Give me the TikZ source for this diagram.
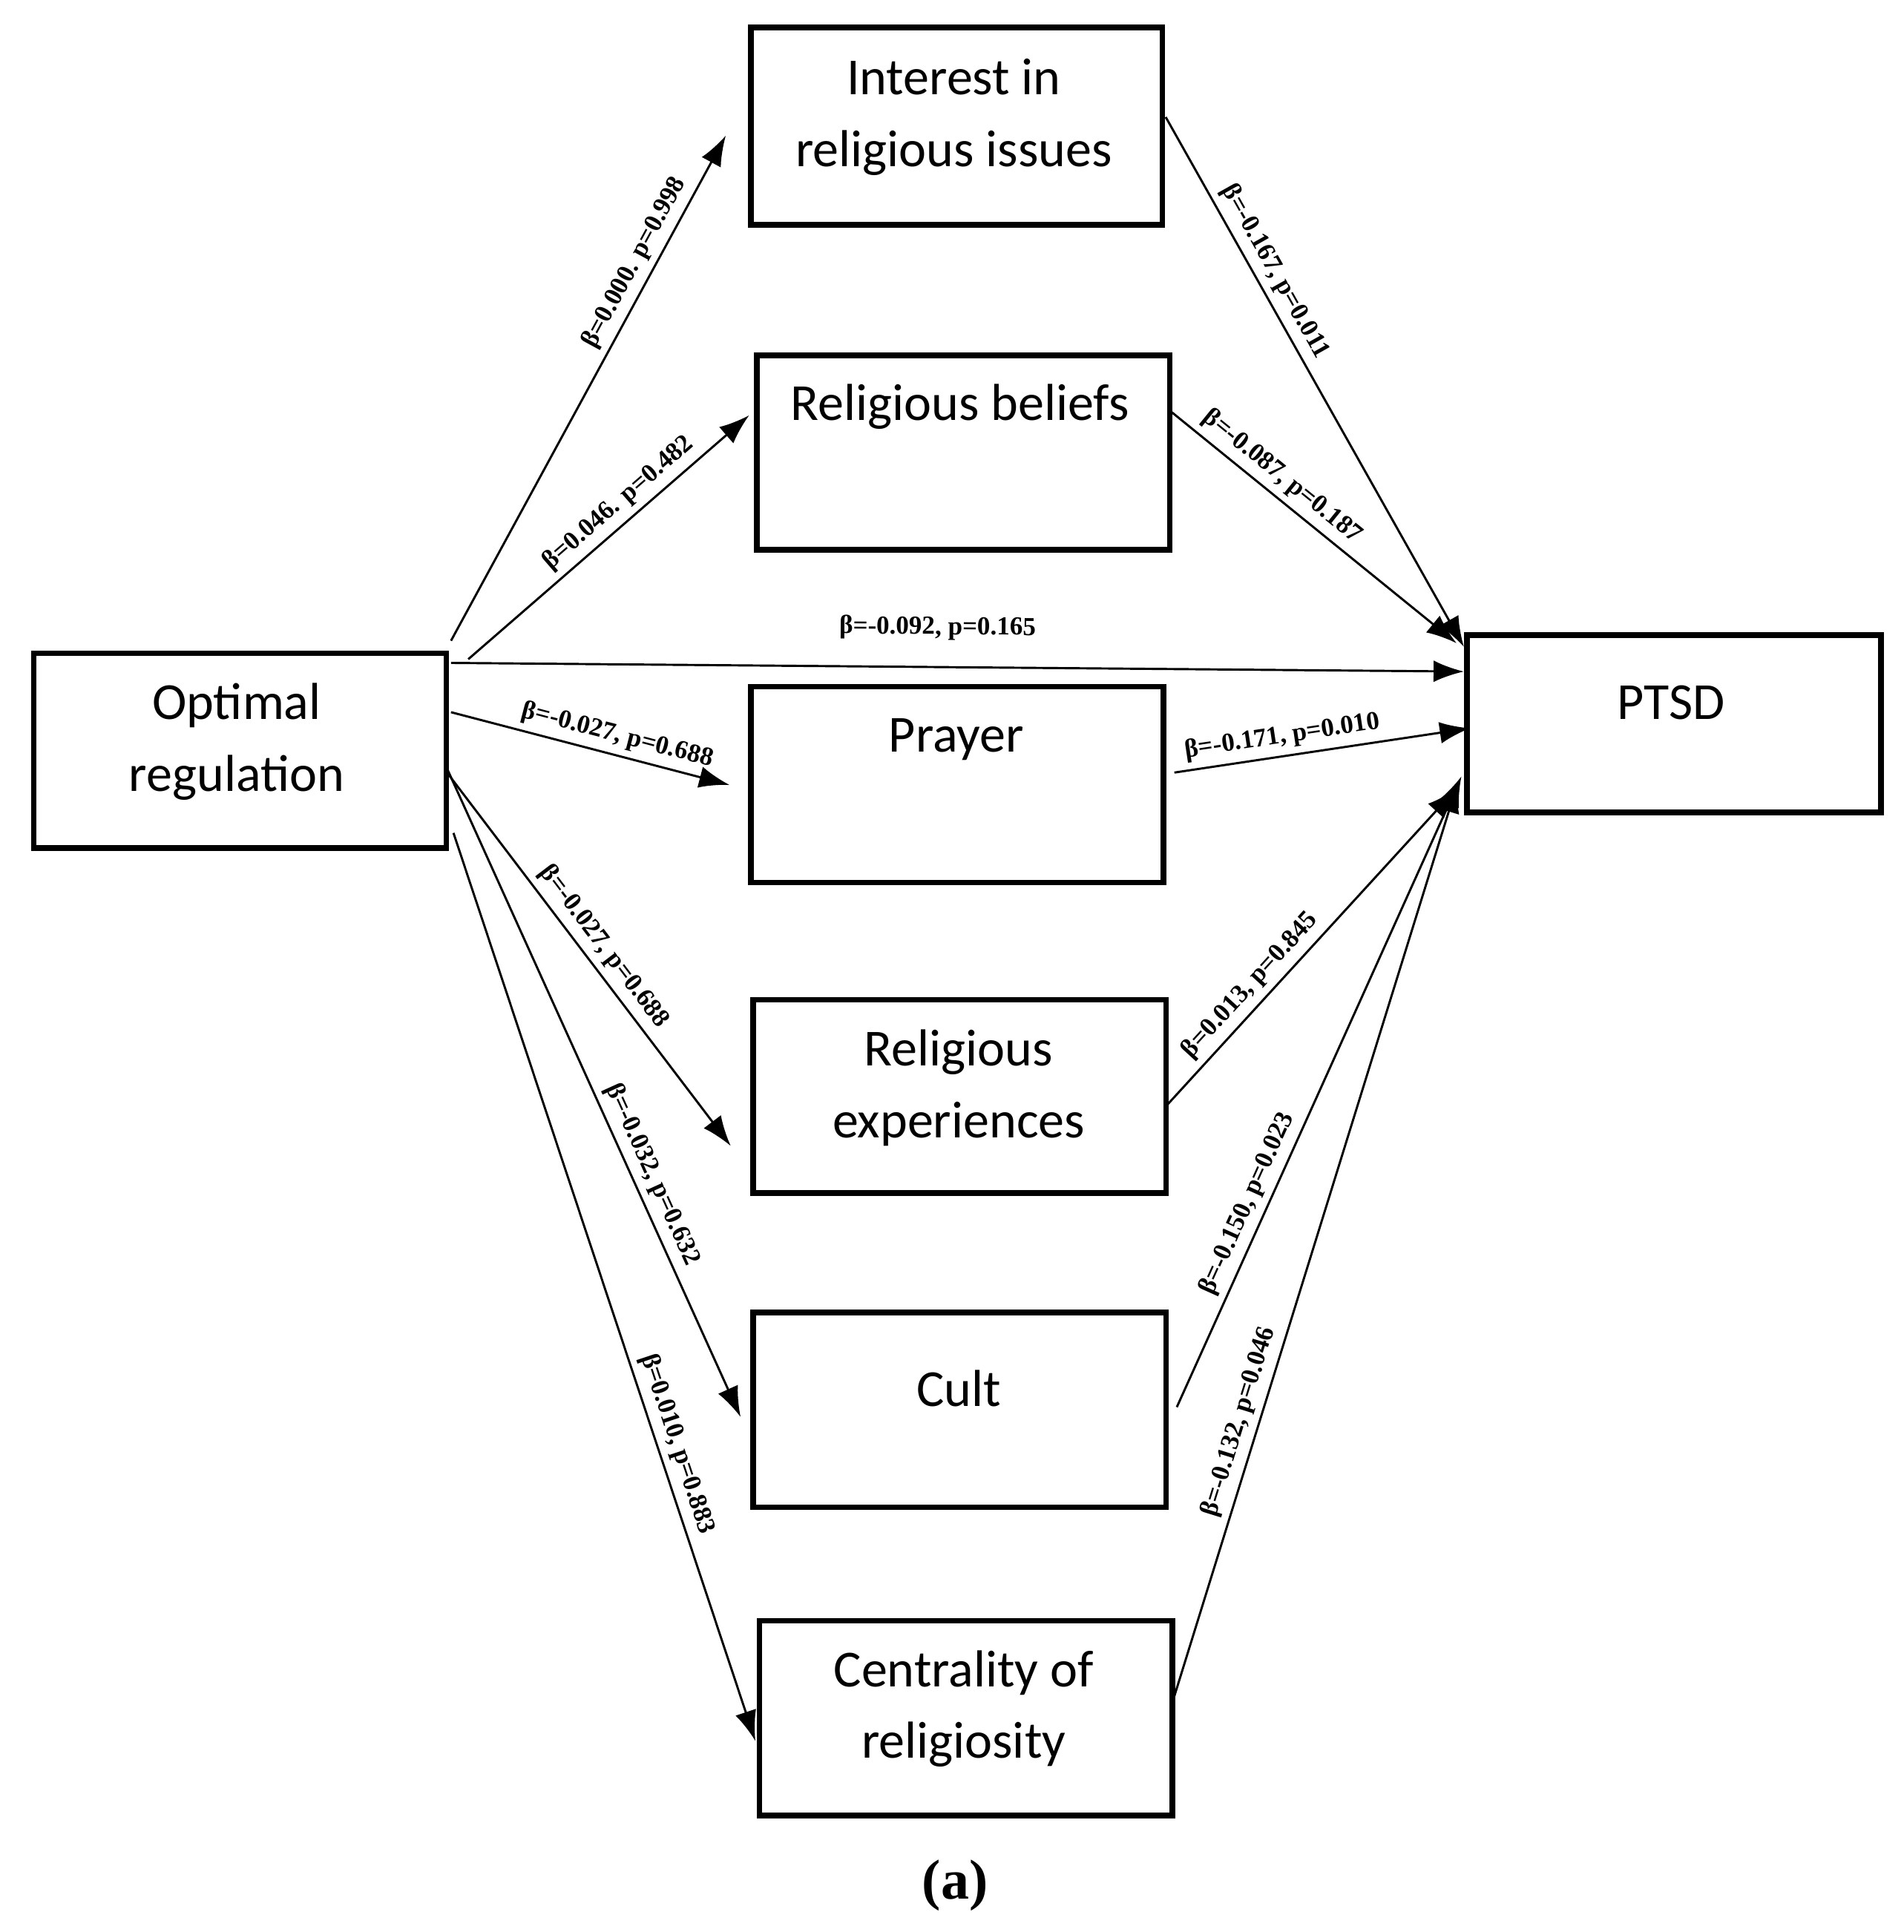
\documentclass[tikz,border=0pt]{standalone}
\usepackage{fontspec}
\setmainfont{Liberation Serif}
\newfontfamily\boxfont{Carlito}
\usetikzlibrary{arrows.meta}
\begin{document}
\begin{tikzpicture}[x=0.01cm,y=-0.01cm,
  box/.style={draw,line width=1.3pt,inner sep=0pt,anchor=north west},
  txt/.style={inner sep=0pt,align=center,font=\boxfont\fontsize{12}{16.5}\selectfont},
  arr/.style={line width=0.5pt,-{Latex[length=7pt,width=5pt]}},
  lab/.style={sloped,above,inner sep=1.5pt,font=\bfseries\fontsize{6}{7}\selectfont}]
\useasboundingbox (0,0) rectangle (1545,1568);
\node[box,minimum width=335*0.01cm,minimum height=158*0.01cm] (opt) at (25,528) {};
\node[txt] (topt) at (192,602) {Optimal\\regulation};
\node[box,minimum width=334*0.01cm,minimum height=160*0.01cm] (int) at (607,20) {};
\node[txt] (tint) at (774,95) {Interest in\\religious issues};
\node[box,minimum width=335*0.01cm,minimum height=158*0.01cm] (bel) at (612,286) {};
\node[txt] (tbel) at (779,330) {Religious beliefs};
\node[box,minimum width=335*0.01cm,minimum height=159*0.01cm] (pra) at (607,555) {};
\node[txt] (tpra) at (776,600) {Prayer};
\node[box,minimum width=335*0.01cm,minimum height=157*0.01cm] (exp) at (609,809) {};
\node[txt] (texp) at (778,883) {Religious\\experiences};
\node[box,minimum width=335*0.01cm,minimum height=158*0.01cm] (cul) at (609,1063) {};
\node[txt] (tcul) at (778,1127) {Cult};
\node[box,minimum width=335*0.01cm,minimum height=158*0.01cm] (cen) at (614,1313) {};
\node[txt] (tcen) at (782,1387) {Centrality of\\religiosity};
\node[box,minimum width=336*0.01cm,minimum height=144*0.01cm] (pts) at (1188,513) {};
\node[txt] (tpts) at (1356,570) {PTSD};
\node[font=\bfseries\fontsize{13}{15}\selectfont] (cap) at (775,1530) {(a)};
\coordinate (a1) at (366,520); \coordinate (b1) at (589,110);
\coordinate (a2) at (380,535); \coordinate (b2) at (608,337);
\coordinate (a3) at (366,538); \coordinate (b3) at (1188,545);
\coordinate (a4) at (366,578); \coordinate (b4) at (592,637);
\coordinate (a5) at (362,626); \coordinate (b5) at (593,930);
\coordinate (a6) at (362,622); \coordinate (b6) at (601,1150);
\coordinate (a7) at (368,676); \coordinate (b7) at (613,1413);
\coordinate (a8) at (946,95); \coordinate (b8) at (1188,525);
\coordinate (a9) at (949,333); \coordinate (b9) at (1182,522);
\coordinate (a10) at (953,627); \coordinate (b10) at (1193,591);
\coordinate (a11) at (946,898); \coordinate (b11) at (1182,640);
\coordinate (a12) at (955,1142); \coordinate (b12) at (1186,630);
\coordinate (a13) at (951,1383); \coordinate (b13) at (1183,635);
\draw[arr] (a1) -- node[lab,pos=0.73] {β=0.000. p=0.998} (b1);
\draw[arr] (a2) -- node[lab,pos=0.58] {β=0.046. p=0.482} (b2);
\draw[arr] (a3) -- node[lab,pos=0.48,inner sep=6pt] {β=-0.092, p=0.165} (b3);
\draw[arr] (a4) -- node[lab,pos=0.58] {β=-0.027, p=0.688} (b4);
\draw[arr] (a5) -- node[lab,pos=0.5] {β=-0.027, p=0.688} (b5);
\draw[arr] (a6) -- node[lab,pos=0.64] {β=-0.032, p=0.632} (b6);
\draw[arr] (a7) -- node[lab,pos=0.68] {β=0.010, p=0.883} (b7);
\draw[arr] (a8) -- node[lab,pos=0.31] {β=-0.167, p=0.011} (b8);
\draw[arr] (a9) -- node[lab,pos=0.35] {β=-0.087, p=0.187} (b9);
\draw[arr] (a10) -- node[lab,pos=0.375] {β=-0.171, p=0.010} (b10);
\draw[arr] (a11) -- node[lab,pos=0.34] {β=0.013, p=0.845} (b11);
\draw[arr] (a12) -- node[lab,pos=0.31] {β=-0.150, p=0.023} (b12);
\draw[arr] (a13) -- node[lab,pos=0.3] {β=-0.132, p=0.046} (b13);
\end{tikzpicture}
\end{document}
